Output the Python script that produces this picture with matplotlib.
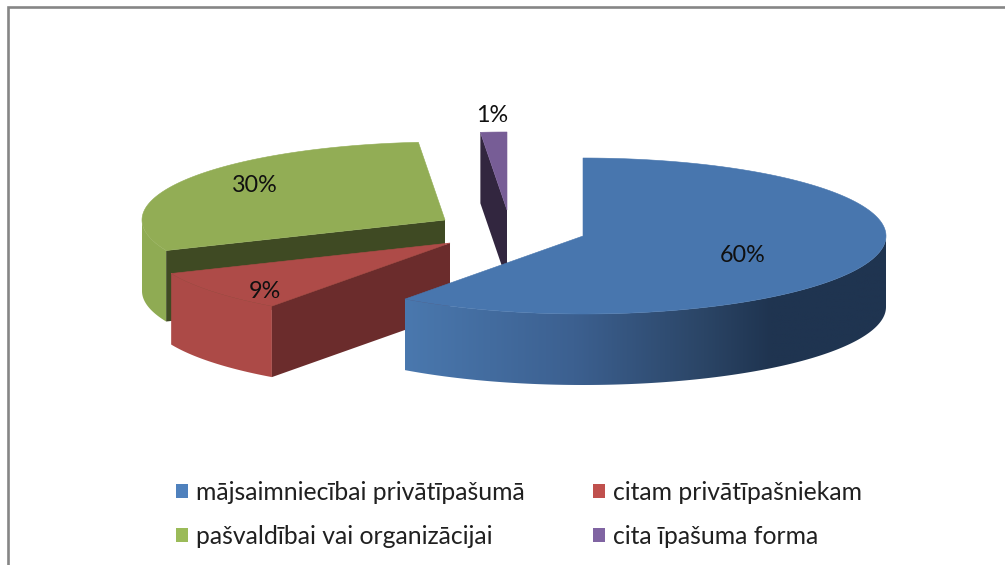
import numpy as np
import matplotlib
matplotlib.use("Agg")
import matplotlib.pyplot as plt
from matplotlib.patches import Polygon, Patch
from matplotlib.colors import LinearSegmentedColormap

# data
categories = ["mājsaimniecībai privātīpašumā", "citam privātīpašniekam",
              "pašvaldībai vai organizācijai", "cita īpašuma forma"]
values = [60.0, 8.6, 30.0, 1.4]

# style
top_colors = ["#4876ae", "#ae4b48", "#92ad55", "#775d96"]
rim_colors = ["#4876ae", "#ac4a47", "#8fab53", "#775d96"]
face_colors = ["#2b4566", "#6b2c2c", "#3f4a23", "#32263f"]
legend_colors = ["#4f81bd", "#c0504d", "#9bbb59", "#8064a2"]
centers = [(583, 236), (450, 243), (445, 220), (507, 210)]
label_pos = [(743, 255), (265, 291), (255, 186), (492, 116)]
draw_order = [2, 1, 3, 0]
legend_order = [0, 2, 1, 3]
RX, RY, DEPTH = 303, 78, 71
FONT = "Lato"

fig = plt.figure(figsize=(10.05, 5.65), dpi=100, facecolor="white")
ax = fig.add_axes([0, 0, 1, 1])
ax.set_xlim(0, 1005)
ax.set_ylim(565, 0)
ax.axis("off")

# outer chart frame (only the left and top edges are visible)
ax.plot([8, 8, 1005], [565, 7, 7], color="#868686", lw=1.9,
        solid_joinstyle="miter", zorder=1)


def pt(c, a):
    r = np.radians(a)
    return c[0] + RX * np.sin(r), c[1] - RY * np.cos(r)


def arc(c, a0, a1):
    t = np.linspace(a0, a1, 160)
    x, y = pt(c, t)
    return np.column_stack([x, y])


ends = np.cumsum(values) * 3.6
starts = np.r_[0, ends[:-1]]
z = 2
for i in draw_order:
    c, a0, a1 = centers[i], starts[i], ends[i]
    v0, v1 = max(a0, 90), min(a1, 270)
    if v1 > v0:  # outer rim seen from the front
        up = arc(c, v0, v1)
        down = (up + [0, DEPTH])[::-1]
        rim = Polygon(np.vstack([up, down]), closed=True, fc=rim_colors[i],
                      ec="none", zorder=z)
        ax.add_patch(rim)
        if i == 0:
            rim.set_facecolor("none")
            cmap = LinearSegmentedColormap.from_list(
                "rim", [(0, "#4a78ae"), (0.35, "#3c6090"), (0.62, "#2b4566"),
                        (0.76, "#1f3450"), (1, "#1f3450")])
            im = ax.imshow(np.linspace(0, 1, 256)[None, :], cmap=cmap, vmin=0, vmax=1,
                           extent=(up[:, 0].min(), up[:, 0].max(),
                                   up[:, 1].max() + DEPTH, up[:, 1].min()),
                           aspect="auto", zorder=z, interpolation="bilinear")
            im.set_clip_path(rim)
    if 180 < a0 < 360:  # cut face at the start of the slice
        p = pt(c, a0)
        ax.add_patch(Polygon([c, p, (p[0], p[1] + DEPTH), (c[0], c[1] + DEPTH)],
                             closed=True, fc=face_colors[i], ec="none", zorder=z + 0.1))
    ax.add_patch(Polygon(np.vstack([[c], arc(c, a0, a1)]), closed=True,
                         fc=top_colors[i], ec=top_colors[i], lw=0.4, zorder=z + 0.2))
    z += 1

ax.set_xlim(0, 1005)
ax.set_ylim(565, 0)

for v, (x, y) in zip(values, label_pos):
    ax.text(x, y, f"{round(v)}%", ha="center", va="center", family=FONT,
            fontsize=16.8, color="#101010", zorder=20)

handles = [Patch(fc=legend_colors[i], ec="none", label=categories[i]) for i in legend_order]
leg = ax.legend(handles=handles, ncol=2, loc="upper left",
                bbox_to_anchor=(176, 481), bbox_transform=ax.transData,
                frameon=False, borderpad=0, borderaxespad=0,
                handlelength=0.49, handleheight=0.49, handletextpad=0.33,
                labelspacing=0.83, columnspacing=2.75,
                prop={"family": FONT, "size": 17.8})
for t in leg.get_texts():
    t.set_color("#202020")

fig.savefig("out.png", dpi=100, facecolor="white")
